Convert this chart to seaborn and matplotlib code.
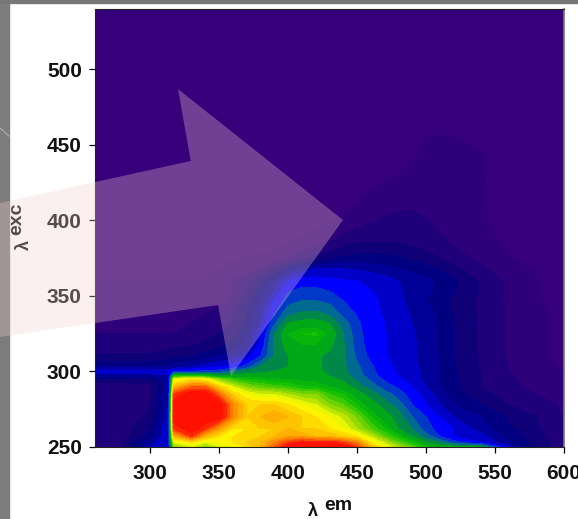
import matplotlib.pyplot as plt
import numpy as np
import seaborn as sns
from matplotlib.patches import Polygon, Rectangle

W, H = 578, 519

# emission wavelengths (columns) and excitation wavelengths (rows)
em = [260, 280, 300, 313, 317, 330, 340, 350, 360, 370, 380, 390, 400, 410, 420, 430, 440, 450, 460, 470, 480, 490,
      500, 510, 520, 540, 560, 580, 600]
exc = [250, 253, 257, 262, 270, 278, 285, 290, 295, 297, 300, 303, 310, 318, 325, 332, 338, 347, 354, 360, 368, 375,
       385, 395, 405, 430, 445, 456, 470, 540]

i_250 = [2.5, 3, 6, 6.5, 14, 15, 14, 15, 15.5, 16, 17, 18.5, 20, 20, 20, 20, 20, 19, 17, 15.5, 14.5, 13.5, 12.5, 11.8, 11.5, 10.9, 6.5, 3.5, 2.5]
i_253 = [2.5, 3, 5.5, 7, 15, 16, 15, 15.5, 16, 16.5, 17, 18, 19, 19.5, 19.5, 19.5, 19, 18, 16, 14.8, 13.5, 12.5, 11, 10, 8.5, 7, 5, 3.5, 2.5]
i_257 = [2.5, 2.5, 4.5, 7, 17, 19, 17, 16, 16, 16.5, 16.5, 17, 17.5, 17.5, 17, 17, 16.5, 16, 14.8, 13.5, 12.5, 11, 9.5, 8, 7, 6.5, 4.5, 3.5, 2]
i_262 = [2.5, 2.5, 4, 7, 19, 20, 19, 17.5, 16, 16, 16.5, 16.5, 17, 16.5, 16.5, 16, 15.5, 14.5, 13.5, 12.5, 11, 10, 8.5, 7.5, 7, 5.5, 4.2, 3.2, 2]
i_270 = [2.5, 2.5, 3.2, 6.5, 20, 20, 20, 20, 18, 16.5, 17, 17.5, 17, 16.5, 16, 15.5, 14.8, 13.8, 12.5, 11.5, 10.5, 9, 8, 7, 6, 5, 3.8, 3, 2]
i_278 = [2.5, 2.5, 3, 6, 20, 20, 20, 20, 18, 16.5, 16.5, 16.5, 16, 15.5, 15, 14, 13.5, 12.5, 11.5, 10.5, 9.5, 8, 7, 6, 5, 4, 3, 2.5, 1.8]
i_285 = [2.5, 2.5, 2.8, 6, 19, 20, 20, 18.5, 16.5, 15.5, 15, 15, 14.5, 14, 14, 13, 12.5, 11.5, 10.5, 9.5, 8.5, 7.5, 6.5, 5.5, 4.5, 3.3, 2.5, 2, 1.5]
i_290 = [2.5, 2.5, 2.7, 5.5, 17, 18.5, 18.5, 16.5, 15, 14, 13.5, 13.2, 13, 12.5, 12.5, 12, 11.5, 10.5, 9.5, 8.5, 7.8, 7, 6, 5, 4.3, 3, 2.2, 1.8, 1.3]
i_295 = [3.5, 3.5, 3.5, 6, 15, 16, 15.5, 14, 13, 12.5, 12.3, 12, 12, 11.8, 11.7, 11.2, 10.8, 9.8, 8.8, 7.8, 7.2, 6.5, 5.7, 5, 4.2, 3, 2.2, 1.6, 1]
i_297 = [5, 5, 5, 5.5, 12.5, 13, 12.5, 11.5, 11.5, 11.5, 11.5, 11.5, 11.5, 11.5, 11.3, 11, 10.5, 9.5, 8.5, 7.5, 7, 6.4, 5.7, 5, 4.2, 3, 2.1, 1.5, 1]
i_300 = [7, 7, 7, 7, 7.5, 8, 8.5, 8.5, 9.5, 10.5, 10.8, 11, 11.2, 11.2, 11.2, 10.8, 10.3, 9.3, 8.3, 7.4, 6.9, 6.4, 5.7, 5, 4.2, 3, 2, 1.4, 1]
i_303 = [5, 5, 5, 5, 5.5, 6, 6.5, 7, 7.5, 8.5, 10.2, 10.8, 11, 11.2, 11.2, 10.7, 10.2, 9.2, 8.2, 7.3, 6.8, 6.3, 5.6, 5, 4.1, 2.9, 2, 1.3, 0.9]
i_310 = [3.2, 3.2, 3.2, 3.5, 3.7, 4, 4.5, 5, 5.5, 6.5, 8, 10.2, 11, 11.2, 11.2, 10.7, 10.1, 8.8, 7.7, 7.1, 6.6, 6.2, 5.6, 4.9, 4.05, 2.85, 1.9, 1.2, 0.7]
i_318 = [2.4, 2.4, 2.4, 2.6, 2.7, 2.9, 3.2, 3.5, 4.2, 5.2, 7.2, 10.2, 11.5, 12, 12, 11.3, 10.1, 8.5, 7.5, 7.05, 6.6, 6.2, 5.6, 4.9, 4.05, 2.85, 1.9, 1.2, 0.7]
i_325 = [2, 2, 2, 2, 2, 2.3, 2.5, 3, 3.5, 4.8, 6.8, 10, 12, 12.5, 12.6, 11.8, 10, 8.4, 7.4, 7.05, 6.6, 6.1, 5.6, 4.9, 4.05, 2.85, 1.9, 1.2, 0.7]
i_332 = [2, 2, 2, 2, 2, 2, 2.2, 2.5, 3, 4.2, 6, 8.8, 11, 11.4, 11.5, 11, 9.5, 8.2, 7.3, 7, 6.5, 6, 5.5, 4.8, 4, 2.8, 1.9, 1.2, 0.7]
i_338 = [2, 2, 2, 2, 2, 2, 2, 2.5, 3, 4, 5.6, 8, 9.8, 10.2, 10.3, 9.8, 8.7, 7.9, 7.3, 6.9, 6.4, 5.9, 5.4, 4.7, 3.9, 2.8, 1.9, 1.2, 0.7]
i_347 = [1.5, 1.5, 1.5, 1.5, 1.5, 1.5, 1.5, 1.5, 2.5, 3.5, 5, 7, 8.5, 9, 9, 8.7, 8, 7.5, 7.2, 6.8, 6.2, 5.7, 5, 4.3, 3.8, 2.7, 1.8, 1.1, 0.6]
i_354 = [1.2, 1.2, 1.2, 1.2, 1.2, 1.2, 1.2, 1.3, 2, 3, 4.3, 6, 7.8, 8.2, 8.2, 7.9, 7.5, 7.2, 7, 6.6, 6.1, 5.7, 5.2, 4.7, 4.1, 2.9, 1.8, 1.1, 0.6]
i_360 = [1, 1, 1, 1, 1, 1, 1, 1.5, 2, 2.7, 3.8, 5.2, 7, 7.5, 7.5, 7.3, 7.1, 7, 6.9, 6.5, 6, 5.6, 5.2, 4.8, 4.2, 2.8, 1.8, 1.05, 0.6]
i_368 = [1, 1, 1, 1, 1, 1, 1, 1, 1.2, 1.5, 2, 3, 4.5, 5.6, 6, 6, 6, 5.9, 5.6, 5.3, 5, 4.7, 4.3, 3.9, 3.3, 2.2, 1.4, 0.9, 0.4]
i_375 = [1, 1, 1, 1, 1, 1, 1, 1, 1, 1, 1.2, 1.5, 2, 2.6, 3.2, 3.9, 4.2, 4.4, 4.4, 4.3, 4.15, 3.8, 3.4, 3, 2.5, 1.7, 1.05, 0.5, 0.2]
i_385 = [0.4, 0.4, 0.4, 0.4, 0.4, 0.4, 0.4, 0.4, 0.4, 0.4, 0.5, 0.7, 1, 1.3, 1.7, 2.1, 2.6, 3, 3.05, 3.05, 3, 2.8, 2.5, 2.2, 1.9, 1.3, 0.8, 0.3, 0.1]
i_395 = [0] * 12 + [0.3, 0.5, 0.9, 1.2, 1.6, 2, 2.2, 2.3, 2.35, 2.3, 2.2, 1.9, 1.6, 1.15, 0.6, 0.2, 0.1]
i_405 = [0] * 14 + [0.3, 0.6, 0.9, 1.2, 1.6, 1.9, 2.05, 2.05, 1.9, 1.6, 1.4, 1.1, 0.5, 0.2, 0]
i_430 = [0] * 16 + [0.2, 0.4, 0.6, 0.8, 1, 1.1, 1.2, 1.2, 1.2, 1.1, 0.3, 0, 0]
i_445 = [0] * 20 + [0.5, 0.9, 1.1, 1.2, 1.2, 1.02, 0.2, 0, 0]
i_456 = [0] * 21 + [0.3, 1, 1.05, 1.02, 0.3, 0, 0, 0]
i_470 = [0] * 29
i_540 = [0] * 29

x_ticks = [300, 350, 400, 450, 500, 550, 600]
y_ticks = [250, 300, 350, 400, 450, 500]

intensity = np.array([i_250, i_253, i_257, i_262, i_270, i_278, i_285, i_290, i_295, i_297, i_300, i_303, i_310,
                      i_318, i_325, i_332, i_338, i_347, i_354, i_360, i_368, i_375, i_385, i_395, i_405,
                      i_430, i_445, i_456, i_470, i_540])

sns.set_theme(style="ticks")
plt.rcParams["font.family"] = ["Liberation Sans", "DejaVu Sans"]
plt.rcParams["font.weight"] = "bold"

# discrete bands for the blues, fine steps for the hot part
low_bands = ["#35007a", "#2e007a", "#20007a", "#0f0078", "#000080", "#000098", "#0000c8", "#0000ff",
             "#0038c8", "#006a90", "#008848"]
hot_stops = ["#00a818", "#10c000", "#60d000", "#b0e000", "#ffff00", "#ffd000", "#ffa800", "#ff7000", "#ff2000", "#ff0000"]
levels = list(range(0, 12)) + list(np.arange(11.5, 20.6, 0.5)[1:])
band_colors = low_bands + sns.blend_palette(hot_stops, n_colors=len(levels) - 1 - len(low_bands))

fig = plt.figure(figsize=(W / 100, H / 100), dpi=100, facecolor="white")
ax = fig.add_axes([95 / W, 1 - 447 / H, (564 - 95) / W, (447 - 9) / H])
ax.contourf(em, exc, intensity, levels=levels, colors=band_colors)
ax.set_xlim(260, 600)
ax.set_ylim(250, 540)
ax.set_xticks(x_ticks)
ax.set_yticks(y_ticks)
ax.tick_params(length=4.5, width=0.9, color="black", labelsize=15, labelcolor="#111111")
ax.tick_params(axis="x", pad=8)
ax.tick_params(axis="y", pad=5)
for side in ["top", "left", "bottom"]:
    ax.spines[side].set_color("#222222")
    ax.spines[side].set_linewidth(0.8)
ax.spines["right"].set_color("#777777")
ax.spines["right"].set_linewidth(1.2)

# axis labels: small lambda with a raised name next to it
fig.text(313 / W, 1 - 512 / H, "λ", fontsize=13, ha="center", va="center", color="#111111")
fig.text(338 / W, 1 - 506 / H, "em", fontsize=14, ha="center", va="center", color="#111111")
fig.text(24 / W, 1 - 245 / H, "λ", fontsize=13, rotation=90, ha="center", va="center", color="#111111")
fig.text(17 / W, 1 - 219 / H, "exc", fontsize=14, rotation=90, ha="center", va="center", color="#111111")

# slide background showing at the edges
fig.add_artist(Rectangle((0, 0), 9 / W, 1, transform=fig.transFigure, color="#7c7c7c", zorder=5))
fig.add_artist(Rectangle((0, 1 - 3 / H), 1, 3 / H, transform=fig.transFigure, color="#777777", zorder=5))
fig.add_artist(plt.Line2D([0, 9 / W], [1 - 128 / H, 1 - 136 / H], color="#a8a8a8", lw=1, zorder=6))

# translucent arrow laid over the plot
arrow_px = [(0, 203), (190.7, 161), (178, 89), (343, 220), (231, 376), (218, 305), (0, 337)]
arrow_xy = [(x / W, 1 - y / H) for x, y in arrow_px]
fig.add_artist(Polygon(arrow_xy, closed=True, transform=fig.transFigure, facecolor="#f8cece", edgecolor="none",
                       alpha=0.31, zorder=10))

fig.savefig("out.png", dpi=100)
